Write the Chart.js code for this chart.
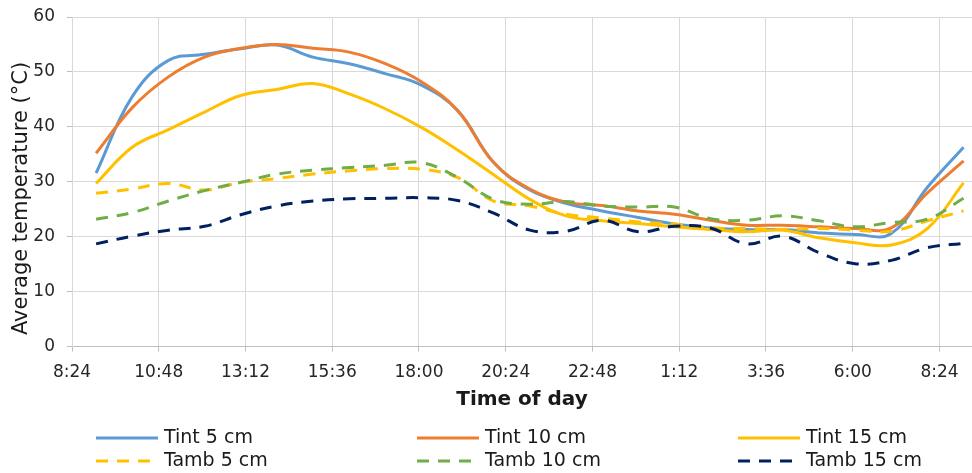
<!DOCTYPE html>
<html>
<head>
<meta charset="utf-8">
<script src="https://cdn.jsdelivr.net/npm/chart.js@4.4.1/dist/chart.umd.min.js"></script>
<style>
  html, body { margin: 0; padding: 0; background: #fff; }
  #wrap { width: 972px; height: 473px; position: relative; }
</style>
</head>
<body>
<div id="wrap"><canvas id="tempChart"></canvas></div>
<script>
// sample times (hourly, running past midnight)
const times = ['9:04','10:04','11:04','12:04','13:04','14:04','15:04','16:04','17:04','18:04','19:04','20:04',
               '21:04','22:04','23:04','0:04','1:04','2:04','3:04','4:04','5:04','6:04','7:04','8:04','9:04'];
const tickLabels = ['8:24','10:48','13:12','15:36','18:00','20:24','22:48','1:12','3:36','6:00','8:24'];

const tint5  = [31.6, 45.5, 52.1, 53.2, 54.2, 54.9, 52.7, 51.5, 49.7, 47.6, 43.0, 33.5, 28.5, 26.1, 24.7, 23.5, 22.3, 21.6, 21.3, 21.3, 20.7, 20.4, 20.6, 29.0, 36.3];
const tint10 = [35.2, 43.5, 49.1, 52.7, 54.3, 55.0, 54.3, 53.6, 51.5, 48.2, 43.0, 33.5, 28.7, 26.3, 25.7, 24.7, 24.1, 23.0, 22.1, 22.1, 21.8, 21.5, 21.6, 28.0, 33.8];
const tint15 = [29.7, 36.3, 39.5, 42.7, 45.7, 46.8, 47.9, 46.0, 43.3, 39.9, 35.8, 31.3, 26.8, 23.8, 22.9, 22.4, 21.8, 21.3, 20.9, 21.2, 19.8, 18.9, 18.5, 21.5, 29.8];
const tamb5  = [27.9, 28.7, 29.7, 28.5, 29.9, 30.6, 31.4, 32.0, 32.4, 32.3, 30.8, 26.5, 25.6, 24.1, 23.4, 22.7, 22.3, 21.6, 21.5, 21.3, 21.5, 21.2, 21.0, 22.9, 24.7];
const tamb10 = [23.2, 24.4, 26.5, 28.4, 29.9, 31.4, 32.1, 32.6, 33.0, 33.5, 30.8, 26.8, 25.9, 26.4, 25.6, 25.4, 25.4, 23.3, 23.0, 23.8, 22.9, 21.8, 22.6, 23.2, 27.0];
const tamb15 = [18.7, 20.1, 21.2, 21.9, 24.0, 25.6, 26.5, 26.9, 27.0, 27.1, 26.6, 24.3, 21.2, 21.0, 23.0, 20.9, 21.9, 21.6, 18.7, 20.1, 17.1, 15.1, 15.7, 18.0, 18.8];

// "h:mm" list -> continuous hours, adding a day when the clock wraps
function toHours(list) {
    let day = 0, prev = -1;
    return list.map(function(t) {
        const p = t.split(':');
        const h = parseInt(p[0]) + parseInt(p[1]) / 60;
        if (h < prev) day += 24;
        prev = h;
        return h + day;
    });
}

const xHours = toHours(times);
const tickHours = toHours(tickLabels);

function pts(values) {
    return values.map(function(v, i) { return { x: xHours[i], y: v }; });
}

const DASH = [12, 9];
const series = [
    { label: 'Tint 5 cm',  data: tint5,  color: '#5B9BD5', dash: [] },
    { label: 'Tint 10 cm', data: tint10, color: '#ED7D31', dash: [] },
    { label: 'Tint 15 cm', data: tint15, color: '#FFC000', dash: [] },
    { label: 'Tamb 5 cm',  data: tamb5,  color: '#FFC000', dash: DASH },
    { label: 'Tamb 10 cm', data: tamb10, color: '#70AD47', dash: DASH },
    { label: 'Tamb 15 cm', data: tamb15, color: '#002060', dash: DASH }
];

// legend in three columns, two rows, under the axis title
const gridLegend = {
    id: 'gridLegend',
    afterDraw: function(chart) {
        const ctx = chart.ctx;
        ctx.save();
        ctx.font = '19px "DejaVu Sans"';
        ctx.textBaseline = 'middle';
        ctx.fillStyle = '#1a1a1a';
        chart.data.datasets.forEach(function(ds, i) {
            const x = 96 + (i % 3) * 321;
            const y = 438 + Math.floor(i / 3) * 23;
            ctx.strokeStyle = ds.borderColor;
            ctx.lineWidth = 3;
            ctx.setLineDash(ds.borderDash || []);
            ctx.beginPath();
            ctx.moveTo(x, y);
            ctx.lineTo(x + 62, y);
            ctx.stroke();
            ctx.setLineDash([]);
            ctx.fillText(ds.label, x + 68, y);
        });
        ctx.restore();
    }
};

new Chart(document.getElementById('tempChart'), {
    type: 'line',
    data: {
        datasets: series.map(function(s, i) {
            return {
                label: s.label,
                data: pts(s.data),
                borderColor: s.color,
                backgroundColor: s.color,
                borderDash: s.dash,
                borderWidth: 3,
                pointRadius: 0,
                tension: 0.4,
                fill: false,
                order: series.length - i
            };
        })
    },
    options: {
        responsive: true,
        maintainAspectRatio: false,
        animation: false,
        layout: { padding: { top: 17, right: 0, bottom: 61, left: 0 } },
        plugins: { legend: { display: false }, tooltip: { enabled: false } },
        scales: {
            x: {
                type: 'linear',
                min: 8.4,
                max: 33.3,
                afterBuildTicks: function(scale) {
                    scale.ticks = tickHours.map(function(v) { return { value: v }; });
                },
                ticks: {
                    autoSkip: false,
                    maxRotation: 0,
                    padding: 11,
                    color: '#262626',
                    font: { family: 'DejaVu Sans', size: 17 },
                    callback: function(value, index) { return tickLabels[index]; }
                },
                grid: { color: '#d9d9d9', tickColor: '#bfbfbf', tickLength: 5 },
                border: { color: '#bfbfbf' },
                title: {
                    display: true,
                    text: 'Time of day',
                    color: '#1a1a1a',
                    padding: { top: -6, bottom: 0 },
                    font: { family: 'DejaVu Sans', size: 20, weight: 'bold' }
                }
            },
            y: {
                min: 0,
                max: 60,
                afterFit: function(scale) {
                    scale.width = 72;
                    scale.paddingTop = 0;
                    scale.paddingBottom = 0;
                },
                ticks: {
                    stepSize: 10,
                    padding: 12,
                    color: '#262626',
                    font: { family: 'DejaVu Sans', size: 17 }
                },
                grid: { color: '#d9d9d9', tickColor: '#bfbfbf', tickLength: 5 },
                border: { color: '#d9d9d9' },
                title: {
                    display: true,
                    // trailing spaces push the visible text a little below centre, as in the source
                    text: 'Average temperature (°C)     ',
                    color: '#1a1a1a',
                    padding: { top: 9, bottom: 0 },
                    font: { family: 'DejaVu Sans', size: 21 }
                }
            }
        }
    },
    plugins: [gridLegend]
});
</script>
</body>
</html>
